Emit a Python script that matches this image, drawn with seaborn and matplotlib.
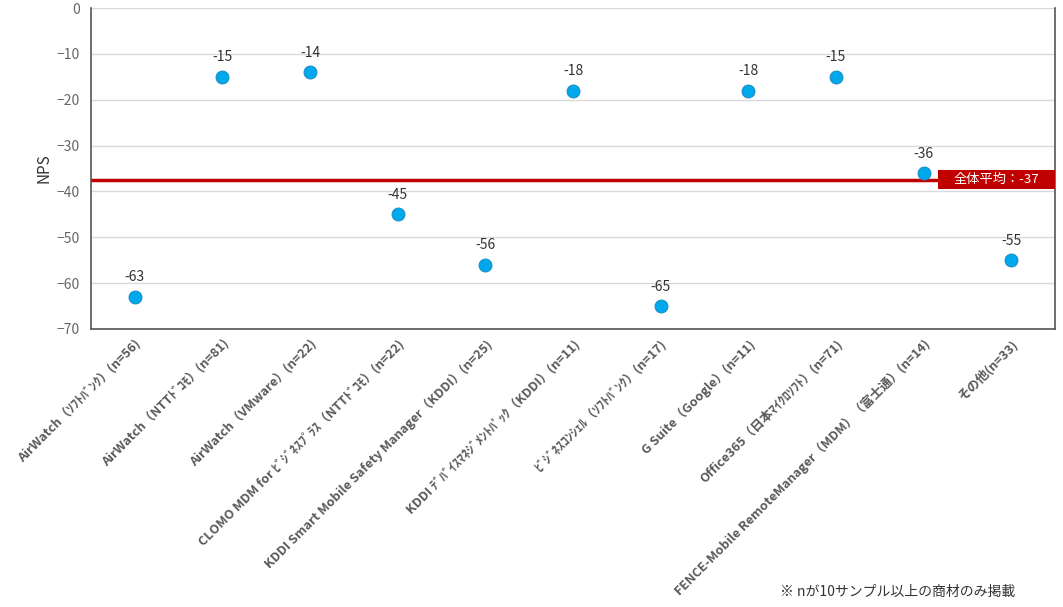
import pandas as pd
import numpy as np
import seaborn as sns
import matplotlib.pyplot as plt
from matplotlib.patches import Rectangle

# products (n>=10 only) and their NPS
products = ['AirWatch（ｿﾌﾄﾊﾞﾝｸ）(n=56)',
            'AirWatch（NTTﾄﾞｺﾓ）(n=81)',
            'AirWatch（VMware）(n=22)',
            'CLOMO MDM for ﾋﾞｼﾞﾈｽﾌﾟﾗｽ（NTTﾄﾞｺﾓ）(n=22)',
            'KDDI Smart Mobile Safety Manager（KDDI）(n=25)',
            'KDDI ﾃﾞﾊﾞｲｽﾏﾈｼﾞﾒﾝﾄﾊﾟｯｸ（KDDI）(n=11)',
            'ﾋﾞｼﾞﾈｽｺﾝｼｪﾙ（ｿﾌﾄﾊﾞﾝｸ）(n=17)',
            'G Suite（Google）(n=11)',
            'Office365（日本ﾏｲｸﾛｿﾌﾄ）(n=71)',
            'FENCE-Mobile RemoteManager（MDM）（富士通）(n=14)',
            'その他(n=33)']
nps = [-63, -15, -14, -45, -56, -18, -65, -18, -15, -36, -55]
overall_avg = -37.4

df = pd.DataFrame({'product': products, 'NPS': nps})

sns.set_style('white')
plt.rcParams['font.family'] = ['Noto Sans CJK JP', 'DejaVu Sans']

fig = plt.figure(figsize=(10.63, 6.07), dpi=100)
ax = fig.add_axes([91/1063, 1 - 329/607, 964/1063, 321/607])

ax.axhline(overall_avg, color='#c00000', lw=2.5, zorder=2)

sns.scatterplot(data=df, x='product', y='NPS', ax=ax, s=85, color='#00a8ec',
                edgecolor='#1a8fc8', linewidth=0.8, zorder=3)

for i, v in enumerate(nps):
    ax.annotate(f'{v}', (i, v), xytext=(0, 9), textcoords='offset points',
                ha='center', va='bottom', fontsize=10, color='#333333')

ax.set_xlim(-0.5, len(products) - 0.5)
ax.set_ylim(-70, 0)
ax.set_yticks(range(-70, 1, 10))
ax.yaxis.grid(True, color='#d9d9d9', lw=1)
ax.set_axisbelow(True)

for side in ['left', 'bottom', 'right']:
    ax.spines[side].set_color('#555555')
    ax.spines[side].set_linewidth(1.2)
ax.spines['top'].set_visible(False)

ax.tick_params(axis='y', labelsize=10, colors='#666666', length=0, pad=8)
ax.tick_params(axis='x', length=0, pad=6)
ax.set_xticks(range(len(products)))
ax.set_xticklabels(products, rotation=45, ha='right', rotation_mode='anchor',
                   fontsize=9.2, fontweight='bold', color='#595959')
ax.set_xlabel('')
ax.set_ylabel('NPS', fontsize=11, color='#333333', labelpad=3)

# average label box at right end
trans = ax.get_yaxis_transform()
ax.add_patch(Rectangle((0.8786, overall_avg - 2.0), 0.1214, 4.0, transform=trans,
                       fc='#c00000', ec='none', zorder=4, clip_on=False))
ax.text(0.939, overall_avg, f'全体平均：{overall_avg:.0f}', transform=trans,
        ha='center', va='center', fontsize=9.5, color='white', zorder=5)

fig.text(1015/1063, 1 - 592/607, '※ nが10サンプル以上の商材のみ掲載', ha='right', va='center',
         fontsize=10, color='#333333')

plt.savefig('out.png', dpi=100)
